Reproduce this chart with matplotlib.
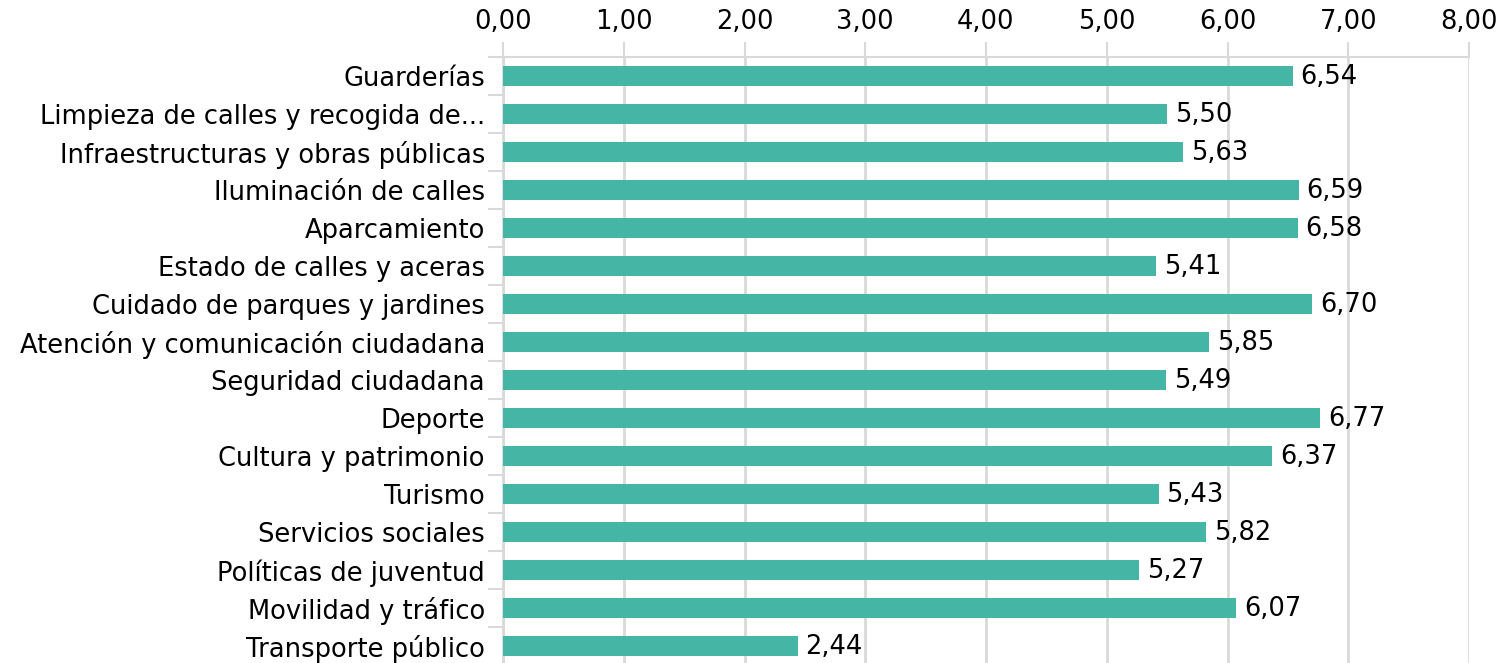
import matplotlib
matplotlib.use("Agg")
import matplotlib.pyplot as plt
from matplotlib.ticker import FuncFormatter, FixedLocator
import numpy as np

categories = [
    "Guarderías",
    "Limpieza de calles y recogida de...",
    "Infraestructuras y obras públicas",
    "Iluminación de calles",
    "Aparcamiento",
    "Estado de calles y aceras",
    "Cuidado de parques y jardines",
    "Atención y comunicación ciudadana",
    "Seguridad ciudadana",
    "Deporte",
    "Cultura y patrimonio",
    "Turismo",
    "Servicios sociales",
    "Políticas de juventud",
    "Movilidad y tráfico",
    "Transporte público",
]
values = [6.54, 5.50, 5.63, 6.59, 6.58, 5.41, 6.70, 5.85, 5.49, 6.77, 6.37, 5.43, 5.82, 5.27, 6.07, 2.44]
xticks = [0, 1, 2, 3, 4, 5, 6, 7, 8]

plt.rcParams['font.family'] = ['DejaVu Sans']

BAR = "#45B5A5"
GRID = "#D9D9D9"
FS = 18.5

fig = plt.figure(figsize=(15.01, 6.63), dpi=100)
ax = fig.add_axes([503/1501, -2/663, 966/1501, 608/663])

n = len(categories)
y = np.arange(n)
ax.barh(y, values, height=0.53, color=BAR, zorder=3)
ax.set_ylim(n - 0.5, -0.5)
ax.set_xlim(0, 8)

fmt = lambda v: f"{v:.2f}".replace(".", ",")
for yi, v in zip(y, values):
    ax.text(v + 0.065, yi + 0.03, fmt(v), va="center", ha="left", fontsize=FS, color="black", zorder=4)

ax.xaxis.tick_top()
ax.set_xticks(xticks)
ax.xaxis.set_major_formatter(FuncFormatter(lambda v, p: fmt(v)))
ax.tick_params(axis="x", which="major", length=11, width=1.5, color=GRID, labelsize=FS, pad=5)
ax.grid(axis="x", color=GRID, linewidth=2, zorder=0)

ax.set_yticks(y)
ax.set_yticklabels(categories, fontsize=FS)
ax.tick_params(axis="y", which="major", length=0, pad=13)
ax.yaxis.set_minor_locator(FixedLocator(np.arange(-0.5, n, 1.0)))
ax.tick_params(axis="y", which="minor", length=11, width=1.5, color=GRID)

for s in ["right", "bottom"]:
    ax.spines[s].set_visible(False)
ax.spines["top"].set_color(GRID)
ax.spines["top"].set_linewidth(1.5)
ax.spines["left"].set_color(GRID)
ax.spines["left"].set_linewidth(2)

fig.savefig("out.png", dpi=100)
